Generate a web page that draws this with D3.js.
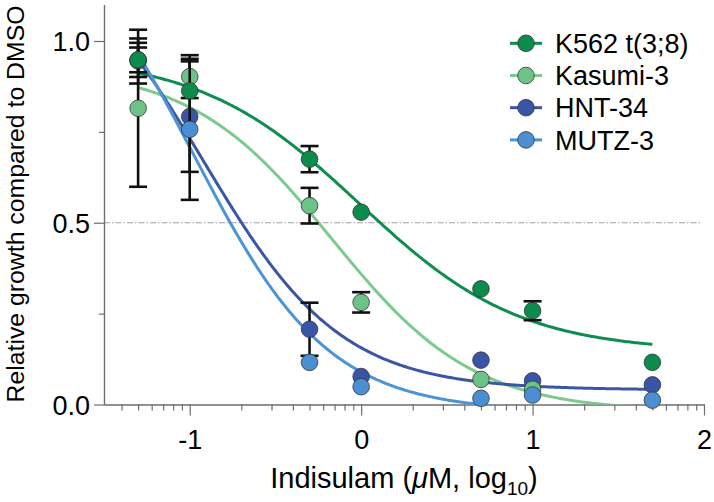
<!DOCTYPE html>
<html>

<head>
    <title>Indisulam dose response</title>
    <script src="https://d3js.org/d3.v7.min.js"></script>
    <style>
        body {
            margin: 0;
            padding: 0;
            background: #fff;
            overflow: hidden;
        }

        svg text {
            font-family: "Liberation Sans", Arial, Helvetica, sans-serif;
            fill: #000;
        }

        .axis path,
        .axis line {
            stroke: #6e6e6e;
            stroke-width: 1.2;
        }
    </style>
</head>

<body>
    <script>
        // doses in uM, plotted as log10
        var doses = [0.05, 0.1, 0.5, 1, 5, 10, 50];
        var cellLines = ["K562 t(3;8)", "Kasumi-3", "HNT-34", "MUTZ-3"];

        // mean and SD per dose (0 = bar hidden behind the marker)
        var k562Mean = [0.948, 0.863, 0.675, 0.529, 0.318, 0.258, 0.116];
        var k562Sd = [0.034, 0.02, 0.036, 0, 0, 0.026, 0];
        var kasumiMean = [0.815, 0.902, 0.547, 0.281, 0.069, 0.042, null];
        var kasumiSd = [0.216, 0.059, 0.049, 0.028, 0, 0, null];
        var hntMean = [0.948, 0.792, 0.207, 0.077, 0.122, 0.065, 0.054];
        var hntSd = [0.047, 0.152, 0.073, 0, 0, 0, 0];
        var mutzMean = [0.945, 0.757, 0.116, 0.049, 0.017, 0.026, 0.012];
        var mutzSd = [0.062, 0.194, 0.012, 0, 0, 0, 0];

        // 4PL fit parameters (top, bottom, logEC50, hill), one per cell line
        var fitTop = [0.96, 0.93, 1.3, 1.4];
        var fitBottom = [0.145, -0.02, 0.04, -0.02];
        var fitLogEC50 = [-0.01, -0.17, -0.92, -0.98];
        var fitHill = [0.93, 1.05, 1.08, 1.1];

        var xTicks = [-1, 0, 1, 2];
        var yTicks = [0, 0.5, 1.0];
        var yMinorTicks = [0.25, 0.75];

        var markerColors = ["#0b8c4d", "#6cc287", "#3a55a7", "#4a8fd1"];
        var curveColors = ["#0f8d4f", "#7ccb8d", "#3c56a6", "#4c95d5"];

        var means = [k562Mean, kasumiMean, hntMean, mutzMean];
        var sds = [k562Sd, kasumiSd, hntSd, mutzSd];

        var width = 714,
            height = 502,
            radius = 8.3;

        var svg = d3.select("body").append("svg")
            .attr("width", width)
            .attr("height", height);

        var x = d3.scaleLinear().domain([-1.5, 2]).range([104, 704]);
        var y = d3.scaleLinear().domain([0, 1.1]).range([404.5, 4.65]);

        // minor log ticks
        var xMinor = [];
        for (var n = -2; n <= 1; n++) {
            for (var k = 2; k <= 9; k++) {
                var v = Math.log10(k * Math.pow(10, n));
                if (v >= -1.5 && v <= 2) xMinor.push(v);
            }
        }

        svg.append("defs").append("clipPath").attr("id", "plotclip")
            .append("rect")
            .attr("x", x(-1.5)).attr("y", 0)
            .attr("width", x(2) - x(-1.5)).attr("height", y(0));

        // 50% reference line
        svg.append("line")
            .attr("x1", x(-1.5)).attr("x2", 700)
            .attr("y1", y(0.5)).attr("y2", y(0.5))
            .attr("stroke", "#8a8a8a")
            .attr("stroke-width", 0.8)
            .attr("stroke-dasharray", "6,2,1.5,2");

        // axes
        svg.append("g").attr("class", "axis")
            .attr("transform", "translate(0," + y(0) + ")")
            .call(d3.axisBottom(x).tickValues(xMinor).tickSize(6).tickSizeOuter(0).tickFormat(""));
        var gx = svg.append("g").attr("class", "axis")
            .attr("transform", "translate(0," + y(0) + ")")
            .call(d3.axisBottom(x).tickValues(xTicks).tickSize(11).tickSizeOuter(0).tickPadding(14.5)
                .tickFormat(d3.format("d")));
        gx.selectAll("text").style("font-size", "27px").text(d => d < 0 ? "-" + Math.abs(d) : d);

        svg.append("g").attr("class", "axis")
            .attr("transform", "translate(" + x(-1.5) + ",0)")
            .call(d3.axisLeft(y).tickValues(yMinorTicks).tickSize(5).tickSizeOuter(0).tickFormat(""));
        var gy = svg.append("g").attr("class", "axis")
            .attr("transform", "translate(" + x(-1.5) + ",0)")
            .call(d3.axisLeft(y).tickValues(yTicks).tickSize(10).tickSizeOuter(0).tickPadding(4)
                .tickFormat(d3.format(".1f")));
        gy.selectAll("text").style("font-size", "27px").attr("dy", "0.36em");
        svg.selectAll(".axis .domain").attr("stroke", "#6e6e6e");

        // fitted curves
        var xs = d3.range(0, 301).map(i => Math.log10(doses[0]) + i * (Math.log10(doses[6]) - Math.log10(doses[0])) / 300);
        var line = d3.line().x(d => x(d[0])).y(d => y(d[1]));
        cellLines.forEach((name, s) => {
            var pts = xs.map(v => [v, fitBottom[s] + (fitTop[s] - fitBottom[s]) / (1 + Math.pow(10, (v - fitLogEC50[s]) * fitHill[s]))]);
            svg.append("path")
                .attr("d", line(pts))
                .attr("clip-path", "url(#plotclip)")
                .attr("fill", "none")
                .attr("stroke", curveColors[s])
                .attr("stroke-width", 3);
        });

        // error bars + markers; draw order as in the original
        var order = [2, 1, 3, 0];
        order.forEach(s => {
            var g = svg.append("g");
            means[s].forEach((m, i) => {
                if (m === null) return;
                var cx = x(Math.log10(doses[i]));
                var sd = sds[s][i];
                // bars shorter than the marker are not drawn
                if (y(m) - y(m + sd) <= radius) return;
                var eb = g.append("g").attr("stroke", "#111").attr("stroke-width", 2.6);
                eb.append("line").attr("x1", cx).attr("x2", cx).attr("y1", y(m - sd)).attr("y2", y(m + sd));
                eb.append("line").attr("x1", cx - 9).attr("x2", cx + 9).attr("y1", y(m - sd)).attr("y2", y(m - sd));
                eb.append("line").attr("x1", cx - 9).attr("x2", cx + 9).attr("y1", y(m + sd)).attr("y2", y(m + sd));
            });
            means[s].forEach((m, i) => {
                if (m === null) return;
                g.append("circle")
                    .attr("cx", x(Math.log10(doses[i])))
                    .attr("cy", y(m))
                    .attr("r", radius)
                    .attr("fill", markerColors[s])
                    .attr("stroke", "#333")
                    .attr("stroke-width", 0.8);
            });
        });

        // axis titles
        var xt = svg.append("text")
            .attr("x", (x(-1.5) + x(2)) / 2)
            .attr("y", 488)
            .attr("text-anchor", "middle")
            .style("font-size", "29px");
        xt.append("tspan").text("Indisulam (");
        xt.append("tspan").style("font-style", "italic").text("\u03bc");
        xt.append("tspan").text("M, log");
        xt.append("tspan").attr("dy", 7).style("font-size", "19px").text("10");
        xt.append("tspan").attr("dy", -7).text(")");

        svg.append("text")
            .attr("transform", "translate(24,204) rotate(-90)")
            .attr("text-anchor", "middle")
            .style("font-size", "24.8px")
            .text("Relative growth compared to DMSO");

        // legend
        var legend = svg.append("g");
        cellLines.forEach((name, s) => {
            var ly = 43.3 + s * 32.2;
            legend.append("line")
                .attr("x1", 510).attr("x2", 542)
                .attr("y1", ly).attr("y2", ly)
                .attr("stroke", curveColors[s])
                .attr("stroke-width", 3);
            legend.append("circle")
                .attr("cx", 526).attr("cy", ly).attr("r", radius)
                .attr("fill", markerColors[s])
                .attr("stroke", "#333")
                .attr("stroke-width", 0.8);
            legend.append("text")
                .attr("x", 555).attr("y", ly).attr("dy", "0.36em")
                .style("font-size", "27px")
                .text(name);
        });
    </script>
</body>

</html>
